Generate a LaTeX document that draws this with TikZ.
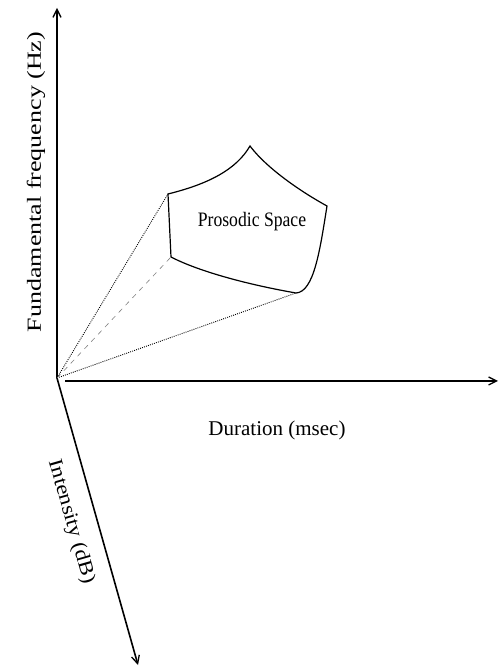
\documentclass[tikz,border=0pt]{standalone}
\usepackage{fontspec}
\setmainfont{Liberation Serif}
\usetikzlibrary{arrows.meta}
\begin{document}
\begin{tikzpicture}[x=1pt,y=1pt,
  axis/.style={line width=1.6pt,-{Straight Barb[length=8pt,width=8pt,line width=1.3pt]}},
  edge/.style={line width=1.2pt},
  dotline/.style={line width=0.9pt,dash pattern=on 0.9pt off 1.2pt},
  dashline/.style={line width=0.6pt,dash pattern=on 5pt off 5pt,gray},
  lab/.style={inner sep=0pt}]
\useasboundingbox (0,0) rectangle (500,670);
% axes
\coordinate (O) at (57,292);
\coordinate (Ytop) at (57,662);
\coordinate (Xs) at (65,289);
\coordinate (Xend) at (498,289);
\coordinate (Zend) at (138,5);
\draw[axis] (O) -- (Ytop);
\draw[axis] (Xs) -- (Xend);
\draw[axis] (O) -- (Zend);
% prosodic space corners
\coordinate (A) at (250,524);
\coordinate (TL) at (168,476);
\coordinate (R) at (327,464);
\coordinate (LB) at (171,413);
\coordinate (BR) at (296,377);
\draw[edge] (TL) .. controls (208,486) and (236,500) .. (A)
  .. controls (268,500) and (305,476) .. (R)
  .. controls (320,420) and (314,378) .. (BR)
  .. controls (250,385) and (200,398) .. (LB)
  -- cycle;
% projection lines
\draw[dotline] (O) -- (TL);
\draw[dotline] (O) -- (BR);
\draw[dashline] (O) -- (LB);
% labels
\node[lab,font=\fontsize{20.5}{24}\selectfont] (ps) at (252,448) {\scalebox{0.86}[1]{Prosodic Space}};
\node[lab,rotate=90,font=\fontsize{20}{24}\selectfont] (ff) at (36,488) {\scalebox{1.3}[1]{Fundamental frequency (Hz)}};
\node[lab,font=\fontsize{21}{24}\selectfont] (du) at (277,240) {Duration (msec)};
\node[lab,rotate=-74,font=\fontsize{20}{24}\selectfont] (in) at (71,148) {\scalebox{1.15}[1]{Intensity (dB)}};
\end{tikzpicture}
\end{document}
